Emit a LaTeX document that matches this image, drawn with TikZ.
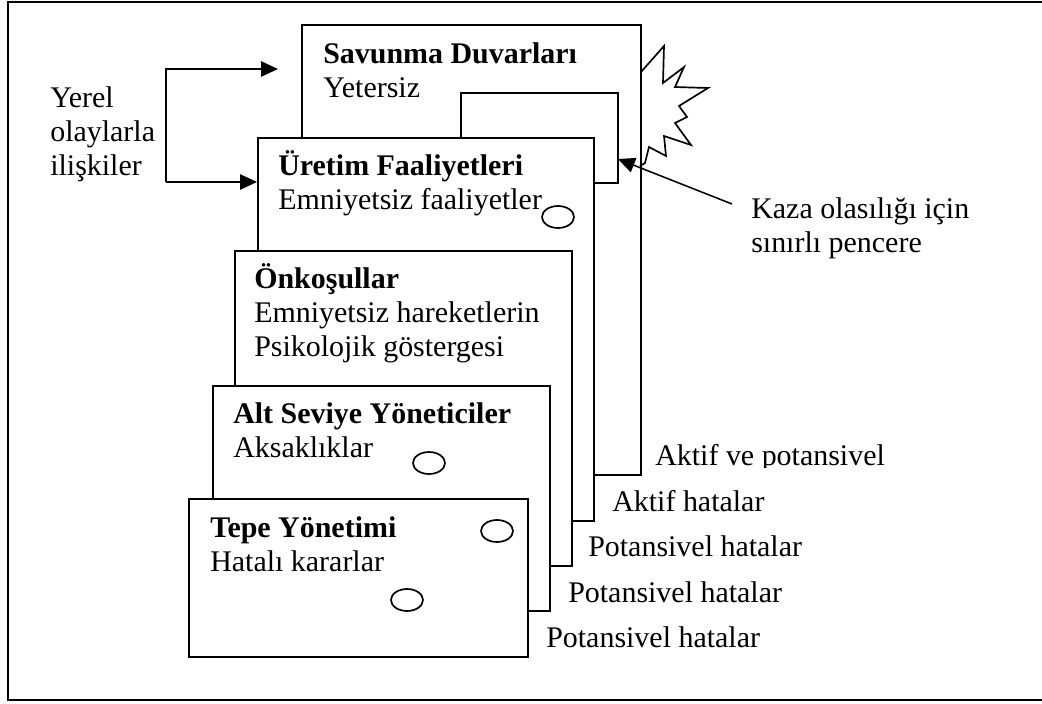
\documentclass[tikz,border=0pt]{standalone}
\usepackage{fontspec}
\setmainfont{Liberation Serif}
\usetikzlibrary{arrows.meta,shapes.geometric}

% lines of a label, first baseline on the anchor
\newcommand{\lines}[1]{\begin{tabular}[t]{@{}l@{}}#1\end{tabular}}

\begin{document}
\begin{tikzpicture}[x=0.025cm, y=-0.025cm,
    >={Triangle[length=0.42cm,width=0.38cm]},
    font=\fontsize{21.3}{24.5}\selectfont,
    layer/.style={draw, rectangle, line width=1.4pt, fill=white, anchor=north west, inner sep=0pt},
    txt/.style={anchor=base west, inner sep=0pt},
    hole/.style={draw, ellipse, line width=1.2pt, minimum width=0.8cm, minimum height=0.55cm, inner sep=0pt}]
    \useasboundingbox (0,0) rectangle (1042,704);
    \draw[line width=2pt] (1080,2) -- (8,2) -- (8,700) -- (1080,700);

    % stacked layers, back to front
    \node[layer, minimum width=8.475cm, minimum height=11.25cm] (savunma) at (301,24) {};
    \node[layer, minimum width=3.925cm, minimum height=2.25cm] (window) at (460,92) {};
    \node[layer, minimum width=8.4cm, minimum height=9.575cm] (uretim) at (257,137) {};
    \node[layer, minimum width=8.425cm, minimum height=7.875cm] (onkosul) at (234,250) {};
    \node[layer, minimum width=8.425cm, minimum height=5.625cm] (altseviye) at (212,385) {};
    \node[layer, minimum width=8.475cm, minimum height=3.95cm] (tepe) at (188,498) {};

    \node[txt] (t1) at (323,63) {\lines{\textbf{Savunma Duvarları}\\Yetersiz}};
    \node[txt] (t2) at (278,175) {\lines{\textbf{Üretim Faaliyetleri}\\Emniyetsiz faaliyetler}};
    \node[txt] (t3) at (254,288) {\lines{\textbf{Önkoşullar}\\Emniyetsiz hareketlerin\\Psikolojik göstergesi}};
    \node[txt] (t4) at (233,423) {\lines{\textbf{Alt Seviye Yöneticiler}\\Aksaklıklar}};
    \node[txt] (t5) at (210,537) {\lines{\textbf{Tepe Yönetimi}\\Hatalı kararlar}};

    % holes
    \node[hole] (h1) at (558,217) {};
    \node[hole] (h2) at (429,463) {};
    \node[hole] (h3) at (497,531) {};
    \node[hole] (h4) at (407,600) {};

    % error labels
    \begin{scope}
        \clip (600,420) rectangle (1000,467);
        \node[txt] (e1) at (655,465) {Aktif ve potansivel};
    \end{scope}
    \node[txt] (e2) at (612,511) {Aktif hatalar};
    \node[txt] (e3) at (588,556) {Potansivel hatalar};
    \node[txt] (e4) at (568,602) {Potansivel hatalar};
    \node[txt] (e5) at (546,647) {Potansivel hatalar};

    % local events
    \node[txt] (yerel) at (50,107) {\lines{Yerel\\olaylarla\\ilişkiler}};
    \coordinate (fork) at (166,182);
    \coordinate (savin) at (278,69);
    \coordinate (uretin) at (257,182);
    \draw[->, line width=1.1pt] (fork) |- (savin);
    \draw[->, line width=1.1pt] (fork) -- (uretin);

    % accident window
    \node[txt] (kaza) at (751,218) {\lines{Kaza olasılığı için\\sınırlı pencere}};
    \coordinate (kazatail) at (732,204);
    \coordinate (gap) at (618,159);
    \draw[->, line width=1.1pt] (kazatail) -- (gap);

    \draw[line width=1.2pt] (641,72) -- (664,46) -- (663,83) -- (684,67) -- (675,87) -- (708,88)
        -- (679,106) -- (687,117) -- (675,123) -- (691,145) -- (664,136) -- (666,156)
        -- (649,147) -- (645,163) -- (640,166);
\end{tikzpicture}
\end{document}
